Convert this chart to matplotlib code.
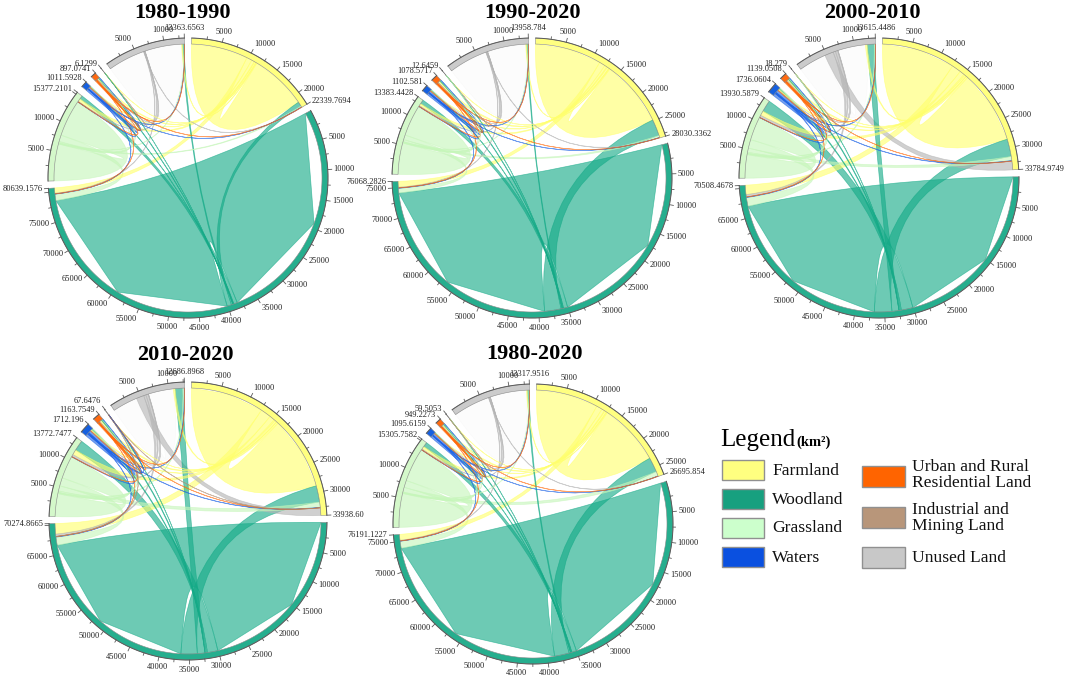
import numpy as np
import matplotlib
matplotlib.use('Agg')
import matplotlib.pyplot as plt
from matplotlib.path import Path
from matplotlib.patches import PathPatch, Polygon, Rectangle

# ---------------- data ----------------
categories = ['Farmland', 'Woodland', 'Grassland', 'Waters',
              'Urban and Rural\nResidential Land', 'Industrial and\nMining Land', 'Unused Land']
titles = ['1980-1990', '1990-2020', '2000-2010', '2010-2020', '1980-2020']

# sector total labels (km²), order: Farmland, Woodland, Grassland, Waters, Urban, Industrial, Unused
totals_1980_1990 = ['22339.7694', '80639.1576', '15377.2101', '1011.5928', '897.0741', '6.1299', '13363.6563']
totals_1990_2020 = ['28030.3362', '76068.2826', '13383.4428', '1102.581', '1078.5717', '12.6459', '13958.784']
totals_2000_2010 = ['33784.9749', '70508.4678', '13930.5879', '1736.0604', '1139.0508', '18.279', '13615.4486']
totals_2010_2020 = ['33938.60', '70274.8665', '13772.7477', '1712.196', '1163.7549', '67.6476', '12686.8968']
totals_1980_2020 = ['26695.854', '76191.1227', '15305.7582', '1095.6159', '949.2273', '59.5053', '13317.9516']

# transfer matrices (row = from, column = to), km²
flows_1980_1990 = [
    [9700, 900, 500, 100, 250, 0.6, 150],
    [750, 38350, 600, 60, 120, 0.5, 250],
    [200, 1100, 6320, 50, 80, 0, 80],
    [30, 40, 20, 340, 15, 0, 5],
    [10, 20, 5, 2, 193, 0, 3],
    [0, 0, 0, 0, 0, 2.5, 0],
    [50, 100, 100, 10, 5, 0, 6305],
]
flows_1990_2020 = [
    [11375, 1000, 400, 120, 350, 4, 150],
    [2800, 35078, 700, 80, 150, 2.5, 200],
    [350, 800, 5356, 60, 80, 1, 100],
    [40, 50, 20, 342, 20, 0, 10],
    [15, 30, 10, 3, 204, 0, 3],
    [0, 0, 0, 0, 0, 2.5, 0],
    [50, 100, 150, 15, 10, 0, 6585],
]
flows_2000_2010 = [
    [12639, 1600, 800, 200, 300, 7, 300],
    [3000, 30147, 2000, 200, 200, 5, 1200],
    [700, 1500, 4044, 100, 100, 2, 200],
    [80, 80, 30, 470, 30, 0, 20],
    [20, 30, 10, 5, 210, 0, 5],
    [0, 0, 0, 0, 0, 2, 0],
    [1500, 400, 400, 50, 20, 0, 4760],
]
flows_2010_2020 = [
    [12628, 1800, 900, 200, 350, 30, 300],
    [2800, 30121, 1800, 200, 200, 20, 1300],
    [900, 1400, 3937, 100, 100, 8, 250],
    [80, 80, 30, 438, 30, 1, 60],
    [20, 30, 10, 5, 196, 1, 5],
    [2, 2, 0, 0, 0, 1.8, 0],
    [1300, 400, 400, 50, 20, 0, 4301],
]
flows_1980_2020 = [
    [10608, 1000, 500, 100, 300, 30, 150],
    [2500, 35026, 800, 60, 150, 20, 250],
    [800, 1200, 5798, 50, 80, 5, 100],
    [30, 40, 20, 382, 15, 0, 5],
    [10, 20, 5, 2, 180, 0, 3],
    [0, 0, 0, 0, 0, 2, 0],
    [60, 100, 150, 10, 5, 0, 6242],
]

# ---------------- style ----------------
track_colors = ['#FFFF80', '#26AE8E', '#D4F8CA', '#1560E0', '#FF6A10', '#B8967A', '#CBCBCB']
ribbon_colors = ['#FFFF6E', '#14AA87', '#C6F6BA', '#1E64E6', '#FF6A0A', '#B08C6E', '#B4B4B4']
legend_colors = ['#FFFF80', '#17A07F', '#CCFFCC', '#0A50E0', '#FF6400', '#B8967A', '#C8C8C8']
SERIF = 'Liberation Serif'

W_PX, H_PX = 1065, 677
fig = plt.figure(figsize=(W_PX / 100, H_PX / 100), dpi=100)
ax = fig.add_axes([0, 0, 1, 1])
ax.set_xlim(0, W_PX)
ax.set_ylim(H_PX, 0)
ax.axis('off')


def draw_panel(cx, cy, R, flows, labels, title, tx, ty):
    M = np.array(flows, dtype=float)
    n = M.shape[0]
    sizes = M.sum(axis=1) + M.sum(axis=0)
    gap = 3.0
    scale = (360.0 - n * gap) / sizes.sum()
    starts = []
    a = 90.0 - gap / 2
    for i in range(n):
        starts.append(a)
        a -= sizes[i] * scale + gap

    def ang(i, p):
        return starts[i] - p * scale

    def pt(theta, r):
        t = np.radians(theta)
        return (cx + r * np.cos(t), cy - r * np.sin(t))

    # link positions on each sector
    out_seg, in_seg = {}, {}
    for i in range(n):
        cur = 0.0
        for k in range(n):
            j = (i + k) % n
            out_seg[(i, j)] = (cur, cur + M[i, j])
            cur += M[i, j]
        for k in range(n):
            j = (i + k) % n
            in_seg[(j, i)] = (cur, cur + M[j, i])
            cur += M[j, i]

    track_w = 6
    r_in = R - track_w
    links = sorted([(M[i, j], i, j) for i in range(n) for j in range(n) if M[i, j] > 0],
                   reverse=True)
    for w, i, j in links:
        a0, a1 = out_seg[(i, j)]
        b0, b1 = in_seg[(i, j)]
        ta0, ta1 = ang(i, a0), ang(i, a1)
        tb0, tb1 = ang(j, b0), ang(j, b1)
        verts = [pt(ta0, r_in), pt((ta0 + ta1) / 2, r_in), pt(ta1, r_in),
                 (cx, cy), pt(tb0, r_in),
                 pt((tb0 + tb1) / 2, r_in), pt(tb1, r_in),
                 (cx, cy), pt(ta0, r_in), pt(ta0, r_in)]
        codes = [Path.MOVETO, Path.LINETO, Path.LINETO,
                 Path.CURVE3, Path.CURVE3,
                 Path.LINETO, Path.LINETO,
                 Path.CURVE3, Path.CURVE3, Path.CLOSEPOLY]
        alpha = 0.62
        if i == j and i == 6:
            alpha = 0.04
        col = ribbon_colors[i]
        ax.add_patch(PathPatch(Path(verts, codes), facecolor=col, edgecolor=col,
                               alpha=alpha, lw=0.5, zorder=2))

    # tracks, ticks, labels
    for i in range(n):
        t0 = starts[i]
        t1 = ang(i, sizes[i])
        ths = np.linspace(t0, t1, max(4, int(abs(t0 - t1) * 2)))
        outer = [pt(t, R) for t in ths]
        inner = [pt(t, r_in) for t in ths[::-1]]
        ax.add_patch(Polygon(outer + inner, closed=True, facecolor=track_colors[i],
                             edgecolor='#8a8a8a', lw=0.4, zorder=3))
        xs, ys = zip(*outer)
        ax.plot(xs, ys, color='#5a5a5a', lw=0.7, zorder=4)

        def put_label(theta, txt):
            c, s = np.cos(np.radians(theta)), np.sin(np.radians(theta))
            ha = 'left' if c > 0.3 else ('right' if c < -0.3 else 'center')
            va = 'bottom' if s > 0.8 else ('top' if s < -0.8 else 'center')
            x, y = pt(theta, R + 6)
            ax.text(x, y, txt, ha=ha, va=va, fontsize=6.0, family=SERIF,
                    color='#222222', zorder=5)

        v = 2500
        while v < sizes[i]:
            th = ang(i, v)
            major = (v % 5000 == 0)
            p1 = pt(th, R)
            p2 = pt(th, R + (4 if major else 2.5))
            ax.plot([p1[0], p2[0]], [p1[1], p2[1]], color='#5a5a5a', lw=0.6, zorder=4)
            if major and sizes[i] - v > 800:
                put_label(th, str(v))
            v += 2500
        te = ang(i, sizes[i])
        p1, p2 = pt(te, R), pt(te, R + 4)
        ax.plot([p1[0], p2[0]], [p1[1], p2[1]], color='#5a5a5a', lw=0.6, zorder=4)
        put_label(te, labels[i])

    ax.text(tx, ty, title, ha='center', va='center', fontsize=16, fontweight='bold',
            family=SERIF, color='black', zorder=6)


panels = [
    (188, 178, 140, flows_1980_1990, totals_1980_1990, titles[0], 182, 13),
    (532, 178, 140, flows_1990_2020, totals_1990_2020, titles[1], 532, 13),
    (879, 178, 140, flows_2000_2010, totals_2000_2010, titles[2], 872, 13),
    (188, 521, 139, flows_2010_2020, totals_2010_2020, titles[3], 185, 355),
    (533, 524, 140, flows_1980_2020, totals_1980_2020, titles[4], 535, 354),
]
for p in panels:
    draw_panel(*p)

# ---------------- legend ----------------
ax.text(720, 446, 'Legend', ha='left', va='baseline', fontsize=18, family=SERIF, color='black')
ax.text(796, 446, '(km²)', ha='left', va='baseline', fontsize=10.5, fontweight='bold',
        family=SERIF, color='black')
left_rows = [(460, 471), (489, 500), (518, 528), (547, 558)]
right_rows = [(466, 475), (507, 518), (547, 558)]
for k in range(4):
    y0, yt = left_rows[k]
    ax.add_patch(Rectangle((722, y0), 42, 20, facecolor=legend_colors[k],
                           edgecolor='#909090', lw=1.0))
    ax.text(772, yt, categories[k], ha='left', va='center', fontsize=12.6,
            family=SERIF, color='#111111')
for k in range(3):
    y0, yt = right_rows[k]
    ax.add_patch(Rectangle((862, y0), 43, 21, facecolor=legend_colors[4 + k],
                           edgecolor='#909090', lw=1.0))
    ax.text(912, yt, categories[4 + k], ha='left', va='center', fontsize=12.6,
            family=SERIF, color='#111111', linespacing=1.0)

fig.savefig('out.png', dpi=100, facecolor='white')
